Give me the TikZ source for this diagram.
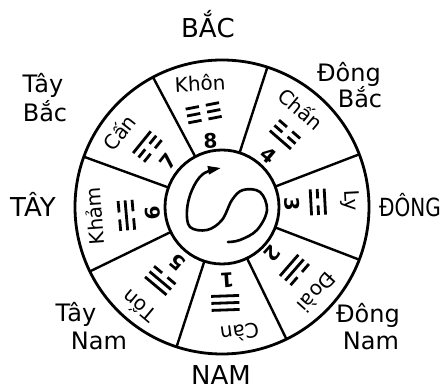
\documentclass[tikz,border=0pt]{standalone}
\usepackage{fontspec}
\usepackage{graphicx}
\setmainfont{DejaVu Sans}
\usetikzlibrary{arrows.meta}
\newcommand\trline[3]{\ifnum#2=1\relax\draw[tri] (-#3,#1) -- (#3,#1);\else\draw[tri] (-#3,#1) -- (-3.5,#1) (3.5,#1) -- (#3,#1);\fi}
\newcommand\trigram[5]{% #1 angle, #2 top(outer), #3 middle, #4 bottom(inner), #5 half length
  \begin{scope}[shift={(#1:96)}, rotate=#1-90]
    \trline{7}{#2}{#5}\trline{0}{#3}{#5}\trline{-7}{#4}{#5}
  \end{scope}}
\begin{document}
\begin{tikzpicture}[x=1pt,y=1pt,
  lab/.style={font=\fontsize{24}{26}\selectfont, inner sep=0pt, anchor=base},
  caplab/.style={font=\fontsize{26}{28}\selectfont, inner sep=0pt, anchor=base},
  sname/.style={font=\fontsize{20}{22}\selectfont, inner sep=0pt},
  snum/.style={font=\fontsize{20}{22}\selectfont\bfseries, inner sep=0pt},
  ringnode/.style={circle, draw, line width=2.8pt, inner sep=0pt, outer sep=0pt},
  divider/.style={line width=2.4pt},
  tri/.style={line width=2.8pt}]
\useasboundingbox (-222,-183) rectangle (220,207);
\fill[white] (-222,-183) rectangle (220,207);
% rings
\node[ringnode, minimum size=294pt] (wheel) at (0,0) {};
\node[ringnode, minimum size=114pt] (hub) at (0,0) {};
\foreach \a in {21,72,118,160,206,252,296,339}
  \draw[divider] (hub.\a) -- (wheel.\a);
% yin-yang S curve with arrow
\draw[line width=2.6pt, line cap=round, -{Triangle[length=13pt,width=8pt]}]
  plot[smooth, tension=0.6] coordinates {(6,-35) (18,-33) (35,-23) (45,-3) (38,15) (21,17) (10,7) (0,-13) (-15,-23) (-32,-20) (-35,-3) (-30,17) (-19,33) (-1,39)};
% sector names
\node[sname, rotate=3]    (nkhon) at (100:126) {Khôn};
\node[sname, rotate=-40]  (nchan) at (51:126) {Chấn};
\node[sname, rotate=-87]  (nly)   at (3:128) {Ly};
\node[sname, rotate=-132] (ndoai) at (-42:128) {Đoài};
\node[sname, rotate=-172] (ncan)  at (-82:127) {Càn};
\node[sname, rotate=140]  (nton)  at (-130:130) {Tốn};
\node[sname, rotate=94]   (nkham) at (184:128) {Khảm};
\node[sname, rotate=52]   (ncan2) at (144:127) {Cấn};
% numbers
\node[snum, rotate=3]    (k8) at (100:67) {8};
\node[snum, rotate=-40]  (k4) at (48:70) {4};
\node[snum, rotate=-87]  (k3) at (2:70) {3};
\node[snum, rotate=-132] (k2) at (-43:69) {2};
\node[snum, rotate=-176] (k1) at (-86:73) {1};
\node[snum, rotate=140]  (k5) at (-129:71) {5};
\node[snum, rotate=94]   (k6) at (185:70) {6};
\node[snum, rotate=52]   (k7) at (140:70) {7};
% trigrams (outer line first)
\trigram{101}{0}{0}{0}{17}
\trigram{49}{0}{0}{1}{14}
\trigram{3}{1}{0}{1}{13}
\trigram{-41}{0}{1}{1}{14}
\trigram{-88}{1}{1}{1}{14}
\trigram{-130}{1}{1}{0}{14}
\trigram{185}{0}{1}{0}{15}
\trigram{141}{1}{0}{0}{14}
% direction labels
\node[caplab] (bac)   at (-14,169) {BẮC};
\node[lab] (dbac1) at (127,125) {Đông};
\node[lab] (dbac2) at (138,99) {Bắc};
\node[lab, font=\fontsize{20}{22}\selectfont, anchor=base west] (dong) at (157,-10) {\scalebox{1}[1.25]{ĐÔNG}};
\node[lab] (dnam1) at (146,-116) {Đông};
\node[lab] (dnam2) at (149,-143) {Nam};
\node[caplab] (nam)   at (-1,-178) {NAM};
\node[lab] (tnam1) at (-146,-115) {Tây};
\node[lab] (tnam2) at (-123,-143) {Nam};
\node[caplab] (tay)   at (-189,-10) {TÂY};
\node[lab] (tbac1) at (-179,114) {Tây};
\node[lab] (tbac2) at (-177,85) {Bắc};
\end{tikzpicture}
\end{document}
